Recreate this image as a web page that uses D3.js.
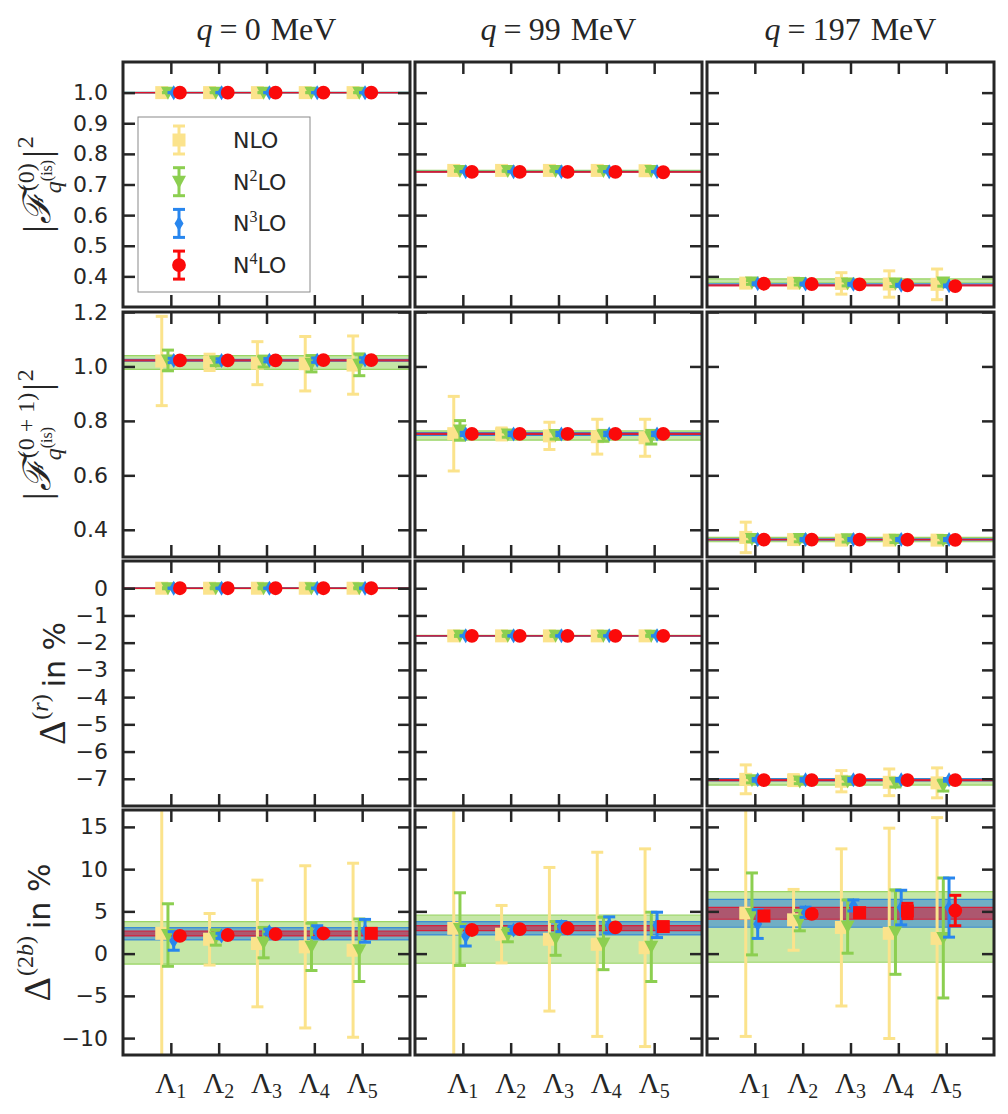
<!DOCTYPE html>
<html>
<head>
<meta charset="utf-8">
<script src="https://cdn.jsdelivr.net/npm/d3@7"></script>
<style>
  body { margin: 0; background: #fff; }
</style>
</head>
<body>
<div id="chart"></div>
<script>
// cutoffs on the x axis, momentum transfer per column, chiral orders per series
var cutoffs = [1, 2, 3, 4, 5];
var momenta = [0, 99, 197];
var orders = ["NLO", "N2LO", "N3LO", "N4LO"];

// |F^(0)|^2  -> [q][order][cutoff]
var ff0Values = [
  [[1.000,1.000,1.000,1.000,1.000],[1.000,1.000,1.000,1.000,1.000],[1.000,1.000,1.000,1.000,1.000],[1.000,1.000,1.000,1.000,1.000]],
  [[0.746,0.746,0.746,0.746,0.745],[0.744,0.744,0.744,0.744,0.744],[0.742,0.742,0.742,0.742,0.742],[0.741,0.741,0.741,0.741,0.740]],
  [[0.378,0.378,0.377,0.375,0.374],[0.380,0.378,0.377,0.377,0.380],[0.376,0.375,0.374,0.371,0.369],[0.376,0.375,0.374,0.371,0.368]]
];
var ff0Errors = [
  [[0,0,0,0,0],[0,0,0,0,0],[0,0,0,0,0],[0,0,0,0,0]],
  [[0.004,0.004,0.004,0.005,0.005],[0.001,0.001,0.001,0.001,0.001],[0,0,0,0,0],[0,0,0,0,0]],
  [[0.010,0.012,0.035,0.043,0.050],[0.006,0.006,0.008,0.010,0.012],[0.003,0.003,0.003,0.003,0.003],[0.001,0.001,0.001,0.001,0.001]]
];
// bands [q][N2LO, N3LO, N4LO] -> [low, high]
var ff0Bands = [
  [[0.999,1.001],[0.9995,1.0005],[0.9998,1.0002]],
  [[0.741,0.746],[0.741,0.743],[0.740,0.742]],
  [[0.379,0.392],[0.371,0.376],[0.369,0.372]]
];

// |F^(0+1)|^2
var ff01Values = [
  [[1.020,1.015,1.012,1.010,1.005],[1.022,1.018,1.018,1.010,1.006],[1.022,1.022,1.023,1.023,1.024],[1.022,1.022,1.022,1.023,1.023]],
  [[0.753,0.752,0.745,0.742,0.738],[0.765,0.750,0.748,0.745,0.740],[0.752,0.752,0.752,0.752,0.752],[0.752,0.752,0.752,0.752,0.752]],
  [[0.372,0.364,0.362,0.362,0.362],[0.366,0.366,0.365,0.363,0.362],[0.364,0.364,0.364,0.364,0.364],[0.364,0.364,0.364,0.364,0.363]]
];
var ff01Errors = [
  [[0.164,0.030,0.079,0.100,0.107],[0.038,0.015,0.020,0.030,0.040],[0.008,0.006,0.006,0.008,0.008],[0.002,0.002,0.002,0.002,0.002]],
  [[0.137,0.022,0.050,0.064,0.068],[0.036,0.010,0.015,0.020,0.025],[0.006,0.006,0.006,0.006,0.006],[0.002,0.002,0.002,0.002,0.002]],
  [[0.056,0.015,0.015,0.015,0.012],[0.010,0.010,0.010,0.010,0.010],[0.004,0.004,0.004,0.004,0.004],[0.001,0.001,0.001,0.001,0.001]]
];
var ff01Bands = [
  [[0.989,1.040],[1.019,1.026],[1.020,1.024]],
  [[0.729,0.763],[0.747,0.757],[0.750,0.754]],
  [[0.356,0.372],[0.362,0.367],[0.363,0.365]]
];

// Delta^(r) in %
var deltaRValues = [
  [[0,0,0,0,0],[0,0,0,0,0],[0,0,0,0,0],[0,0,0,0,0]],
  [[-1.75,-1.75,-1.75,-1.75,-1.75],[-1.75,-1.75,-1.75,-1.75,-1.75],[-1.75,-1.75,-1.75,-1.75,-1.75],[-1.75,-1.75,-1.75,-1.75,-1.75]],
  [[-7.02,-7.05,-7.09,-7.13,-7.15],[-7.05,-7.10,-7.10,-7.15,-7.25],[-7.04,-7.04,-7.04,-7.04,-7.04],[-7.05,-7.05,-7.05,-7.05,-7.05]]
];
var deltaRErrors = [
  [[0.05,0.05,0.05,0.05,0.05],[0.02,0.02,0.02,0.02,0.02],[0,0,0,0,0],[0,0,0,0,0]],
  [[0.05,0.05,0.05,0.05,0.05],[0.02,0.02,0.02,0.02,0.02],[0,0,0,0,0],[0,0,0,0,0]],
  [[0.53,0.20,0.39,0.49,0.55],[0.10,0.08,0.10,0.15,0.20],[0.05,0.05,0.05,0.05,0.05],[0.02,0.02,0.02,0.02,0.02]]
];
var deltaRBands = [
  [[-0.02,0.02],[-0.01,0.01],[-0.005,0.005]],
  [[-1.77,-1.73],[-1.76,-1.74],[-1.755,-1.745]],
  [[-7.23,-6.99],[-7.08,-6.99],[-7.07,-7.03]]
];

// Delta^(2b) in %
var delta2bValues = [
  [[2.4,1.7,1.2,0.8,0.4],[2.2,1.9,1.3,0.8,0.4],[1.5,2.1,2.6,2.6,2.7],[2.1,2.2,2.3,2.4,2.4]],
  [[3.0,2.3,1.7,1.1,0.7],[2.9,2.2,1.8,1.2,0.8],[2.05,2.8,3.2,3.4,3.4],[2.8,2.9,3.0,3.1,3.2]],
  [[4.8,4.0,3.1,2.4,1.8],[4.7,3.9,3.2,2.55,1.85],[3.5,4.9,5.7,5.45,5.45],[4.45,4.7,4.85,5.05,5.1]]
];
var delta2bErrors = [
  [[22,3.05,7.5,9.6,10.3],[3.7,0.9,1.8,2.8,3.7],[1.1,0.3,0.3,0.7,1.35],[0.2,0.2,0.2,0.2,0.3]],
  [[24,3.4,8.5,10.9,11.7],[4.3,0.8,2.0,3.1,4.1],[1.15,0.4,0.6,0.95,1.5],[0.2,0.2,0.2,0.25,0.3]],
  [[14.6,3.6,9.3,12.45,14.3],[4.85,1.2,3.15,5.0,7.1],[1.7,0.6,0.65,2.05,3.5],[0.3,0.3,0.35,0.9,1.8]]
];
var delta2bBands = [
  [[-1.25,3.78],[1.62,3.07],[2.09,2.68]],
  [[-1.14,4.57],[2.21,3.78],[2.72,3.31]],
  [[-1.02,7.33],[3.12,6.43],[4.07,5.48]]
];
// cutoffs where the N4LO point of Delta^(2b) is drawn as a square
var delta2bSquareN4LO = [[4], [4], [0, 2, 3]];

var ff0Ticks = [0.4, 0.5, 0.6, 0.7, 0.8, 0.9, 1.0];
var ff01Ticks = [0.4, 0.6, 0.8, 1.0, 1.2];
var deltaRTicks = [-7, -6, -5, -4, -3, -2, -1, 0];
var delta2bTicks = [-10, -5, 0, 5, 10, 15];

/************* layout ***************/
var width = 1008, height = 1114;
var colLeft = [123, 415, 707], panelW = 287;
var rowTop = [62, 312, 561, 810], panelH = 245;
var ink = "#262626";
var serif = "'Liberation Serif', 'DejaVu Serif', serif";
var sans = "'DejaVu Sans', sans-serif";
var colors = {NLO: "#fbe38c", N2LO: "#8ccf50", N3LO: "#2886ee", N4LO: "#fb0a0a"};
var shapes = {NLO: "square", N2LO: "triDown", N3LO: "diamond", N4LO: "circle"};
var offsets = [-0.19, -0.06, 0.06, 0.19];
var bandStyle = [
  {color: "#8ccf50", op: 0.5},
  {color: "#2a80dc", op: 0.55},
  {color: "#e0102a", op: 0.55}
];

var rows = [
  {values: ff0Values, errors: ff0Errors, bands: ff0Bands, domain: [0.3, 1.1], ticks: ff0Ticks, fmt: d3.format(".1f")},
  {values: ff01Values, errors: ff01Errors, bands: ff01Bands, domain: [0.3, 1.2], ticks: ff01Ticks, fmt: d3.format(".1f")},
  {values: deltaRValues, errors: deltaRErrors, bands: deltaRBands, domain: [-8, 1], ticks: deltaRTicks, fmt: d3.format("d")},
  {values: delta2bValues, errors: delta2bErrors, bands: delta2bBands, domain: [-12, 17], ticks: delta2bTicks, fmt: d3.format("d")}
];

var svg = d3.select("#chart").append("svg")
  .attr("width", width).attr("height", height)
  .style("background", "#fff");

var x = d3.scaleLinear().domain([0, 6]).range([0, panelW]);

function markerPath(shape) {
  if (shape == "square") return "M-6.5,-6.5H6.5V6.5H-6.5Z";
  if (shape == "triDown") return "M-7,-6L7,-6L0,7Z";
  if (shape == "diamond") return "M0,-7.5L4.5,0L0,7.5L-4.5,0Z";
  return d3.symbol(d3.symbolCircle, 150)();
}

function drawPoint(g, cx, cy, yTop, yBot, color, shape) {
  g.append("line").attr("x1", cx).attr("x2", cx).attr("y1", yTop).attr("y2", yBot)
    .attr("stroke", color).attr("stroke-width", 3);
  [yTop, yBot].forEach(function(yy) {
    g.append("line").attr("x1", cx - 6).attr("x2", cx + 6).attr("y1", yy).attr("y2", yy)
      .attr("stroke", color).attr("stroke-width", 3);
  });
  g.append("path").attr("d", markerPath(shape))
    .attr("transform", "translate(" + cx + "," + cy + ")")
    .attr("fill", color);
}

rows.forEach(function(row, r) {
  var y = d3.scaleLinear().domain(row.domain).range([panelH, 0]);

  momenta.forEach(function(q, c) {
    var g = svg.append("g").attr("transform", "translate(" + colLeft[c] + "," + rowTop[r] + ")");
    var clipId = "clip-" + r + "-" + c;
    g.append("clipPath").attr("id", clipId)
      .append("rect").attr("width", panelW).attr("height", panelH);
    var plot = g.append("g").attr("clip-path", "url(#" + clipId + ")");

    // bands of N2LO, N3LO, N4LO
    row.bands[c].forEach(function(b, k) {
      var st = bandStyle[k];
      plot.append("rect").attr("x", 0).attr("width", panelW)
        .attr("y", y(b[1])).attr("height", Math.max(0, y(b[0]) - y(b[1])))
        .attr("fill", st.color).attr("fill-opacity", st.op);
      b.forEach(function(v) {
        plot.append("line").attr("x1", 0).attr("x2", panelW).attr("y1", y(v)).attr("y2", y(v))
          .attr("stroke", st.color).attr("stroke-opacity", 0.85).attr("stroke-width", 1.2);
      });
    });

    // error bars and markers
    orders.forEach(function(o, k) {
      cutoffs.forEach(function(cut, i) {
        var v = row.values[c][k][i], e = row.errors[c][k][i];
        var shape = shapes[o];
        if (r == 3 && o == "N4LO" && delta2bSquareN4LO[c].indexOf(i) >= 0) shape = "square";
        drawPoint(plot, x(cut + offsets[k]), y(v), y(v + e), y(v - e), colors[o], shape);
      });
    });

    // ticks on all four sides, pointing in
    var left = g.append("g").call(d3.axisLeft(y).tickValues(row.ticks).tickSize(-12).tickPadding(15)
      .tickFormat(c == 0 ? row.fmt : ""));
    var right = g.append("g").attr("transform", "translate(" + panelW + ",0)")
      .call(d3.axisRight(y).tickValues(row.ticks).tickSize(-12).tickFormat(""));
    var top = g.append("g").call(d3.axisTop(x).tickValues(cutoffs).tickSize(-12).tickFormat(""));
    var bottom = g.append("g").attr("transform", "translate(0," + panelH + ")")
      .call(d3.axisBottom(x).tickValues(cutoffs).tickSize(-12).tickFormat(""));
    [left, right, top, bottom].forEach(function(a) {
      a.select(".domain").remove();
      a.selectAll(".tick line").attr("stroke", ink).attr("stroke-width", 2.5);
      a.selectAll(".tick text").attr("font-family", sans).attr("font-size", 22).attr("fill", ink);
    });

    g.append("rect").attr("width", panelW).attr("height", panelH)
      .attr("fill", "none").attr("stroke", ink).attr("stroke-width", 3);

    // cutoff labels under the last row
    if (r == rows.length - 1) {
      cutoffs.forEach(function(cut) {
        var t = g.append("text").attr("x", x(cut)).attr("y", panelH + 38)
          .attr("text-anchor", "middle").attr("font-family", serif).attr("font-size", 29).attr("fill", ink);
        t.append("tspan").text("Λ");
        t.append("tspan").attr("font-size", 20).attr("dy", 5).text(cut);
      });
    }

    // column titles
    if (r == 0) {
      var t = svg.append("text").attr("x", colLeft[c] + panelW / 2).attr("y", 40)
        .attr("text-anchor", "middle").attr("font-family", serif).attr("font-size", 32).attr("fill", ink);
      t.append("tspan").attr("font-style", "italic").text("q");
      t.append("tspan").attr("dx", 7).text("=");
      t.append("tspan").attr("dx", 7).text(q);
      t.append("tspan").attr("dx", 10).text("MeV");
    }
  });
});

/************* y axis labels ***************/
function piece(g, px, py, txt, size, italic, family) {
  var t = g.append("text").attr("x", px).attr("y", py)
    .attr("font-family", family || serif).attr("font-size", size)
    .attr("font-style", italic ? "italic" : "normal").attr("fill", ink).text(txt);
  return px + t.node().getComputedTextLength();
}

function ffLabel(g, sup) {
  var px = piece(g, 0, 0, "|", 38);
  px = piece(g, px + 1, 0, "ℱ", 38, true);
  var xs = piece(g, px + 2, -16, sup, 24);
  var xq = piece(g, px, 11, "q", 24, true);
  xq = piece(g, xq, 2, "(is)", 16);
  px = Math.max(xs, xq) + 2;
  px = piece(g, px, 0, "|", 38);
  return piece(g, px + 2, -17, "2", 24);
}

function deltaLabel(g, supParts) {
  var px = piece(g, 0, 0, "Δ", 38);
  px = piece(g, px + 1, -17, "(", 24);
  px = piece(g, px, -17, supParts[0], 24, false);
  if (supParts[1]) px = piece(g, px, -17, supParts[1], 24, true);
  px = piece(g, px, -17, ")", 24);
  return piece(g, px + 7, 0, "in %", 30, false, sans);
}

var labelPos = [50, 50, 65, 50];
labelPos.forEach(function(lx, r) {
  var cy = rowTop[r] + panelH / 2;
  var outer = svg.append("g").attr("transform", "translate(" + lx + "," + cy + ") rotate(-90)");
  var inner = outer.append("g");
  var len;
  if (r == 0) len = ffLabel(inner, "(0)");
  else if (r == 1) len = ffLabel(inner, "(0 + 1)");
  else if (r == 2) len = deltaLabel(inner, ["", "r"]);
  else len = deltaLabel(inner, ["2", "b"]);
  inner.attr("transform", "translate(" + (-len / 2) + ",0)");
});

/************* legend ***************/
var legend = svg.append("g").attr("transform", "translate(" + (colLeft[0] + 15) + "," + (rowTop[0] + 55) + ")");
legend.append("rect").attr("width", 172).attr("height", 175)
  .attr("fill", "#fff").attr("stroke", "#8a8a8a").attr("stroke-width", 1);
orders.forEach(function(o, k) {
  var ly = 23 + k * 41.7;
  drawPoint(legend, 41, ly, ly - 14, ly + 14, colors[o], shapes[o]);
  var t = legend.append("text").attr("x", 95).attr("y", ly + 8)
    .attr("font-family", sans).attr("font-size", 22).attr("fill", ink);
  if (k == 0) {
    t.text("NLO");
  } else {
    t.append("tspan").text("N");
    t.append("tspan").attr("font-family", serif).attr("font-size", 16).attr("dy", -9).text(k + 1);
    t.append("tspan").attr("dy", 9).text("LO");
  }
});
</script>
</body>
</html>
